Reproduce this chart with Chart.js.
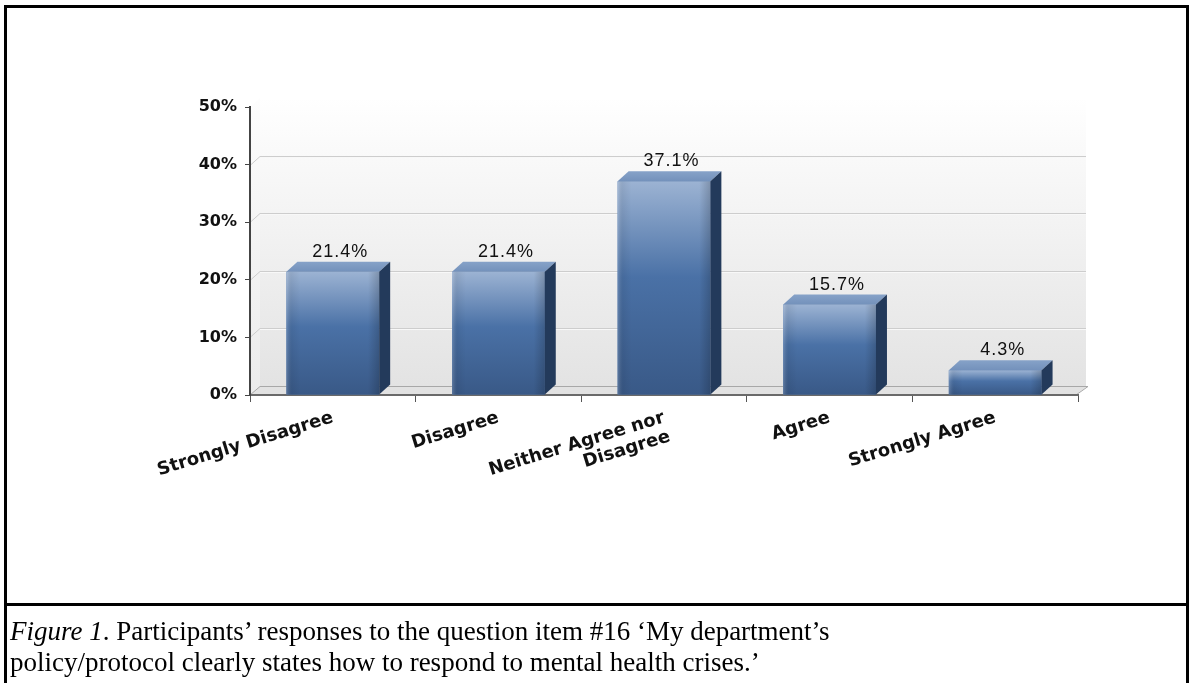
<!DOCTYPE html>
<html>
<head>
<meta charset="utf-8">
<script src="https://cdn.jsdelivr.net/npm/chart.js@4.4.0/dist/chart.umd.min.js"></script>
<style>
  html, body { margin: 0; padding: 0; background: #fff; }
  body { width: 1189px; height: 683px; position: relative; overflow: hidden; }
  #chart { position: absolute; left: 0; top: 0; }
  #frame {
    position: absolute; left: 4px; top: 5px; width: 1179px; height: 690px;
    border: 3px solid #000; border-bottom: none; pointer-events: none;
  }
  #sep { position: absolute; left: 4px; top: 603px; width: 1185px; height: 3px; background: #000; }
  #caption {
    position: absolute; left: 10px; top: 616px; width: 1170px;
    font-family: "Liberation Serif", "Times New Roman", serif;
    font-size: 27px; line-height: 31px; color: #000;
  }
</style>
</head>
<body>
<canvas id="chart" width="1189" height="600"></canvas>
<div id="frame"></div>
<div id="sep"></div>
<div id="caption"><i>Figure 1</i>. Participants’ responses to the question item #16 ‘My department’s<br>policy/protocol clearly states how to respond to mental health crises.’</div>

<script>
// Datos
const categorias = [
  "Strongly Disagree",
  "Disagree",
  ["Neither Agree nor", "Disagree"],
  "Agree",
  "Strongly Agree",
];
const porcentajes = [21.4, 21.4, 37.1, 15.7, 4.3];
const yTicks = [0, 10, 20, 30, 40, 50];

const DX = 11, DY = 10;   // profundidad de las barras
const WX = 10, WY = 9;    // profundidad de la pared

// Pared de fondo, piso y lineas de grilla en 3D
const paredPlugin = {
  id: "pared",
  beforeDraw(chart) {
    const { ctx, chartArea: a, scales } = chart;
    const y = scales.y;
    const top = y.getPixelForValue(50) - WY;
    const bottom = a.bottom - WY;
    const right = a.right + 8;
    ctx.save();
    let g = ctx.createLinearGradient(0, top, 0, bottom);
    g.addColorStop(0, "#ffffff");
    g.addColorStop(1, "#e3e3e3");
    ctx.fillStyle = g;
    ctx.fillRect(a.left + WX, top, right - a.left - WX, bottom - top);
    // pared izquierda
    ctx.beginPath();
    ctx.moveTo(a.left, y.getPixelForValue(50));
    ctx.lineTo(a.left + WX, top);
    ctx.lineTo(a.left + WX, bottom);
    ctx.lineTo(a.left, a.bottom);
    ctx.closePath();
    g = ctx.createLinearGradient(0, top, 0, a.bottom);
    g.addColorStop(0, "#fdfdfd");
    g.addColorStop(1, "#ebebeb");
    ctx.fillStyle = g;
    ctx.fill();
    // grilla
    ctx.lineWidth = 1;
    yTicks.forEach((v) => {
      if (v === 0 || v === 50) return;
      const py = Math.round(y.getPixelForValue(v)) + 0.5;
      ctx.strokeStyle = "#cdcdcd";
      ctx.beginPath();
      ctx.moveTo(a.left, py);
      ctx.lineTo(a.left + WX, py - WY);
      ctx.lineTo(right, py - WY);
      ctx.stroke();
      ctx.strokeStyle = "#f8f8f8";
      ctx.beginPath();
      ctx.moveTo(a.left + WX, py - WY + 1);
      ctx.lineTo(right, py - WY + 1);
      ctx.stroke();
    });
    // piso
    ctx.beginPath();
    ctx.moveTo(a.left, a.bottom);
    ctx.lineTo(a.left + WX, bottom);
    ctx.lineTo(right + 2, bottom);
    ctx.lineTo(a.right - 2, a.bottom);
    ctx.closePath();
    ctx.fillStyle = "#e2e2e2";
    ctx.fill();
    ctx.strokeStyle = "#a8a8a8";
    ctx.beginPath();
    ctx.moveTo(a.left, a.bottom);
    ctx.lineTo(a.left + WX, bottom + 0.5);
    ctx.lineTo(right + 2, bottom + 0.5);
    ctx.lineTo(a.right - 2, a.bottom);
    ctx.stroke();
    ctx.restore();
  },
};

// Caras 3D de las barras y etiquetas de valor
const barras3dPlugin = {
  id: "barras3d",
  afterDatasetsDraw(chart) {
    const { ctx } = chart;
    const meta = chart.getDatasetMeta(0);
    ctx.save();
    meta.data.forEach((bar, i) => {
      const { x, y, base, width } = bar.getProps(["x", "y", "base", "width"], true);
      const l = x - width / 2, r = x + width / 2;
      // frente
      let g = ctx.createLinearGradient(0, y, 0, base);
      g.addColorStop(0, "#9cb3d3");
      g.addColorStop(0.45, "#4a71a6");
      g.addColorStop(1, "#395987");
      ctx.fillStyle = g;
      ctx.fillRect(l, y, width, base - y);
      g = ctx.createLinearGradient(l, 0, r, 0);
      g.addColorStop(0, "rgba(255,255,255,0.18)");
      g.addColorStop(0.06, "rgba(0,0,0,0.06)");
      g.addColorStop(0.15, "rgba(0,0,0,0)");
      g.addColorStop(0.88, "rgba(0,0,0,0)");
      g.addColorStop(1, "rgba(0,0,0,0.18)");
      ctx.fillStyle = g;
      ctx.fillRect(l, y, width, base - y);
      // cara superior
      ctx.beginPath();
      ctx.moveTo(l, y);
      ctx.lineTo(l + DX, y - DY);
      ctx.lineTo(r + DX, y - DY);
      ctx.lineTo(r, y);
      ctx.closePath();
      g = ctx.createLinearGradient(0, y - DY, 0, y);
      g.addColorStop(0, "#86a2c8");
      g.addColorStop(1, "#7391bb");
      ctx.fillStyle = g;
      ctx.fill();
      // lateral
      ctx.beginPath();
      ctx.moveTo(r, y);
      ctx.lineTo(r + DX, y - DY);
      ctx.lineTo(r + DX, base - DY);
      ctx.lineTo(r, base);
      ctx.closePath();
      ctx.fillStyle = "#233a5b";
      ctx.fill();
      // etiqueta
      ctx.fillStyle = "#111";
      ctx.font = "18px 'Liberation Sans', Arial, sans-serif";
      ctx.letterSpacing = "1px";
      ctx.textAlign = "center";
      ctx.textBaseline = "alphabetic";
      ctx.fillText(porcentajes[i].toFixed(1) + "%", x + DX / 2 + 2, y - DY - 5);
    });
    ctx.restore();
  },
};

const ctx = document.getElementById("chart").getContext("2d");
new Chart(ctx, {
  type: "bar",
  data: {
    labels: categorias,
    datasets: [
      {
        label: "Respuestas",
        data: porcentajes,
        backgroundColor: "#4a71a6",
        borderWidth: 0,
        barPercentage: 0.56,
        categoryPercentage: 1,
      },
    ],
  },
  options: {
    responsive: false,
    animation: false,
    devicePixelRatio: 1,
    layout: { padding: { top: 107, right: 111, bottom: 0, left: 0 } },
    plugins: {
      legend: { display: false },
      tooltip: { enabled: false },
    },
    scales: {
      x: {
        offset: true,
        afterFit: (s) => { s.height = 205; },
        grid: { drawOnChartArea: false, tickLength: 7, color: "#555", lineWidth: 1 },
        border: { color: "#6a6a6a", width: 2 },
        ticks: {
          color: "#111",
          font: { family: "'DejaVu Sans'", size: 18, weight: "bold", lineHeight: 1.1 },
          minRotation: 17,
          maxRotation: 17,
          autoSkip: false,
          padding: 6,
        },
      },
      y: {
        min: 0,
        max: 50,
        afterFit: (s) => { s.width = 250; },
        afterBuildTicks: (s) => { s.ticks = yTicks.map((v) => ({ value: v })); },
        grid: { drawOnChartArea: false, tickLength: 5, color: "#444" },
        border: { color: "#444", width: 2 },
        ticks: {
          color: "#111",
          padding: 8,
          font: { family: "'DejaVu Sans'", size: 16, weight: "bold" },
          callback: (v) => v + "%",
        },
      },
    },
  },
  plugins: [paredPlugin, barras3dPlugin],
});
</script>
</body>
</html>
